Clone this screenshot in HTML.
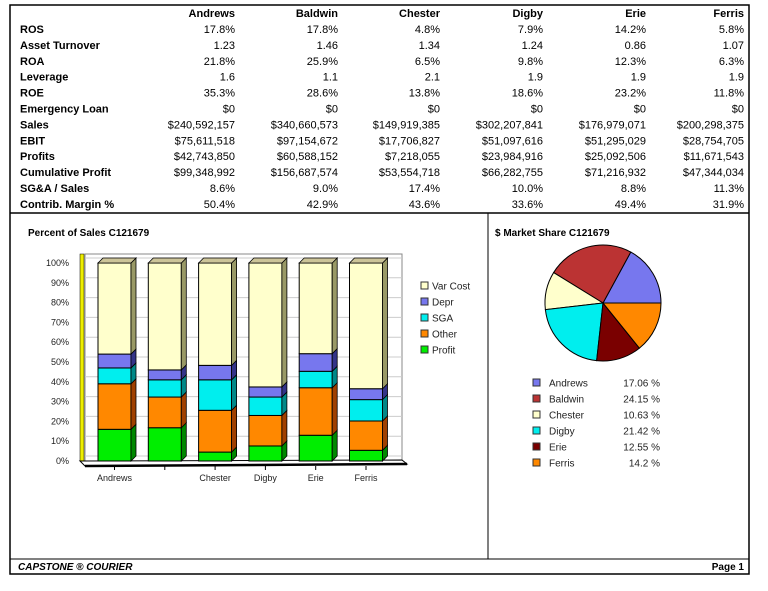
<!DOCTYPE html>
<html><head><meta charset="utf-8"><style>
body{margin:0;background:#fff;width:768px;height:591px;overflow:hidden}
svg{display:block;font-family:"Liberation Sans",Arial,sans-serif}
</style></head><body>
<svg id="s" width="768" height="591" viewBox="0 0 768 591">
<rect x="10" y="5" width="739" height="569" fill="none" stroke="#000" stroke-width="1.5"/>
<line x1="10" y1="213" x2="749" y2="213" stroke="#000" stroke-width="1.5"/>
<line x1="488" y1="213" x2="488" y2="559" stroke="#000" stroke-width="1"/>
<line x1="10" y1="559" x2="749" y2="559" stroke="#000" stroke-width="1"/>
<text x="18" y="570" font-size="10" font-weight="bold" font-style="italic">CAPSTONE ® COURIER</text>
<text x="744" y="570" font-size="10" font-weight="bold" text-anchor="end">Page 1</text>
<g id="table"></g>
<text x="28" y="236" font-size="10" font-weight="bold">Percent of Sales  C121679</text>
<g id="bars"></g>
<text x="495" y="236" font-size="10" font-weight="bold">$ Market Share  C121679</text>
<g id="pie"></g>
</svg>
<script>
const companies=["Andrews","Baldwin","Chester","Digby","Erie","Ferris"];
const rowLabels=["ROS","Asset Turnover","ROA","Leverage","ROE","Emergency Loan","Sales","EBIT","Profits","Cumulative Profit","SG&A / Sales","Contrib. Margin %"];
const tableRows=[
["17.8%","17.8%","4.8%","7.9%","14.2%","5.8%"],
["1.23","1.46","1.34","1.24","0.86","1.07"],
["21.8%","25.9%","6.5%","9.8%","12.3%","6.3%"],
["1.6","1.1","2.1","1.9","1.9","1.9"],
["35.3%","28.6%","13.8%","18.6%","23.2%","11.8%"],
["$0","$0","$0","$0","$0","$0"],
["$240,592,157","$340,660,573","$149,919,385","$302,207,841","$176,979,071","$200,298,375"],
["$75,611,518","$97,154,672","$17,706,827","$51,097,616","$51,295,029","$28,754,705"],
["$42,743,850","$60,588,152","$7,218,055","$23,984,916","$25,092,506","$11,671,543"],
["$99,348,992","$156,687,574","$53,554,718","$66,282,755","$71,216,932","$47,344,034"],
["8.6%","9.0%","17.4%","10.0%","8.8%","11.3%"],
["50.4%","42.9%","43.6%","33.6%","49.4%","31.9%"]];
const barLabels=["Andrews","","Chester","Digby","Erie","Ferris"];
const profitPct=[16,16.8,4.5,7.6,13,5.4];
const otherPct=[23,15.5,21.1,15.4,24,14.8];
const sgaPct=[8,8.7,15.4,9.3,8.3,10.8];
const deprPct=[7,5,7.3,5.1,8.9,5.5];
const yTicks=[0,10,20,30,40,50,60,70,80,90,100];
const shareNames=["Andrews","Baldwin","Chester","Digby","Erie","Ferris"];
const shareVals=[17.06,24.15,10.63,21.42,12.55,14.2];
const shareLabels=["17.06 %","24.15 %","10.63 %","21.42 %","12.55 %","14.2 %"];

const NS="http://www.w3.org/2000/svg";
function mk(p,t,a,txt){const e=document.createElementNS(NS,t);for(const k in a)e.setAttribute(k,a[k]);if(txt!=null)e.textContent=txt;p.appendChild(e);return e;}
const tb=document.getElementById('table');
const colR=[235,338,440,543,646,744];
companies.forEach((c,i)=>{const t=mk(tb,'text',{x:colR[i],y:17,'font-size':11,'font-weight':'bold','text-anchor':'end'},c);

});
rowLabels.forEach((l,r)=>{const y=33+r*15.9;
const t=mk(tb,'text',{x:20,y:y,'font-size':11,'font-weight':'bold'},l);


tableRows[r].forEach((v,i)=>{const c=mk(tb,'text',{x:colR[i],y:y,'font-size':11,'text-anchor':'end'},v);

});});
const g=document.getElementById('bars');
const y0=461,y100=263;const ys=v=>y0-(y0-y100)*v/100;
const bx=i=>98+i*50.3;const bw=33,dx=5,dy=5;
mk(g,'rect',{x:85,y:254,width:317,height:207,fill:'#fff',stroke:'#888'});
yTicks.forEach(t=>{mk(g,'line',{x1:85,x2:402,y1:ys(t)-dy,y2:ys(t)-dy,stroke:'#ccc'});
const l=mk(g,'text',{x:69,y:ys(t)+3,'font-size':9,'text-anchor':'end',fill:'#222'},t+'%');

});
mk(g,'rect',{x:80,y:254,width:4,height:207,fill:'#ee0',stroke:'#000','stroke-width':.5});
mk(g,'polygon',{points:`80,${y0} 402,${y0-1} 407,${y0+3} 85,${y0+5}`,fill:'#fff',stroke:'#000'});
mk(g,'line',{x1:85,y1:y0+5,x2:407,y2:y0+3,stroke:'#000','stroke-width':2.5});
const cols=[["#00ee00","#008800"],["#ff8800","#a04000"],["#00eeee","#008888"],["#7777ee","#333388"],["#ffffcc","#999966"]];
companies.forEach((c,i)=>{const segs=[profitPct[i],otherPct[i],sgaPct[i],deprPct[i]];
segs.push(100-segs.reduce((a,b)=>a+b,0));
let acc=0;const x=bx(i);
segs.forEach((v,k)=>{const yt=ys(acc+v),yb=ys(acc);
const r=mk(g,'rect',{x:x,y:yt,width:bw,height:yb-yt,fill:cols[k][0],stroke:'#000','stroke-width':1});


mk(g,'polygon',{points:`${x+bw},${yt} ${x+bw+dx},${yt-dy} ${x+bw+dx},${yb-dy} ${x+bw},${yb}`,fill:cols[k][1],stroke:'#000','stroke-width':.8});
acc+=v;});
const yt=ys(100);
mk(g,'polygon',{points:`${x},${yt} ${x+dx},${yt-dy} ${x+bw+dx},${yt-dy} ${x+bw},${yt}`,fill:'#ccc499',stroke:'#000','stroke-width':.8});
mk(g,'line',{x1:x+bw/2,x2:x+bw/2,y1:y0+5,y2:y0+9,stroke:'#000'});
const l=mk(g,'text',{x:x+bw/2,y:481,'font-size':9,'text-anchor':'middle',fill:'#222'},barLabels[i]);

});
["Var Cost","Depr","SGA","Other","Profit"].forEach((n,k)=>{const y=286+k*16;const ci=4-k;
const s=mk(g,'rect',{x:421,y:y-4,width:7,height:7,fill:cols[ci][0],stroke:'#333'});


const t=mk(g,'text',{x:432,y:y+3.5,'font-size':10,fill:'#222'},n);

});
const p=document.getElementById('pie');
const pc=["#7777ee","#bb3333","#ffffcc","#00eeee","#7a0000","#ff8800"];
const cx=603,cy=303,R=58;const tot=shareVals.reduce((a,b)=>a+b,0);
let a0=0;
shareVals.forEach((v,i)=>{const a1=a0+v/tot*2*Math.PI;
const x0=cx+R*Math.cos(a0),y0p=cy-R*Math.sin(a0),x1=cx+R*Math.cos(a1),y1=cy-R*Math.sin(a1);
const large=(a1-a0)>Math.PI?1:0;
const s=mk(p,'path',{d:`M${cx},${cy} L${x0},${y0p} A${R},${R} 0 ${large} 0 ${x1},${y1} Z`,fill:pc[i],stroke:'#000','stroke-width':1});


a0=a1;});
shareNames.forEach((n,i)=>{const y=383+i*16;
const s=mk(p,'rect',{x:533,y:y-4,width:7,height:7,fill:pc[i],stroke:'#333'});


const t=mk(p,'text',{x:549,y:y+3.5,'font-size':10,fill:'#222'},n);


const v=mk(p,'text',{x:660,y:y+3.5,'font-size':10,fill:'#222','text-anchor':'end'},shareLabels[i]);

});
</script>
</body></html>
